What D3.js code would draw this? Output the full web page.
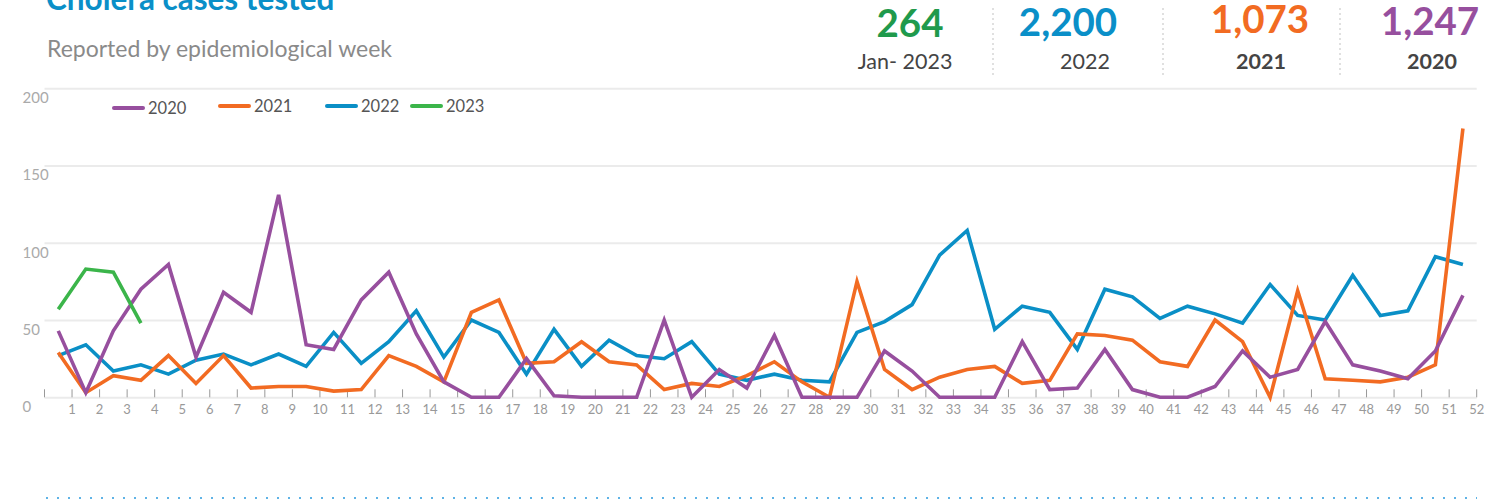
<!DOCTYPE html>
<html>
<head>
<meta charset="utf-8">
<script src="https://cdn.jsdelivr.net/npm/d3@7"></script>
<style>
  html, body { margin: 0; padding: 0; background: #fff; overflow: hidden; }
  text { font-family: Lato, "Noto Sans", sans-serif; }
</style>
</head>
<body>
<script>
// weekly cholera cases tested
var weeks = d3.range(1, 53);
var cases2020 = [43,3,43,70,86,26,68,55,131,34,31,63,81,41,10,0,0,25,1,0,0,0,50,0,18,6,40,0,0,0,30,17,0,0,0,36,5,6,31,5,0,0,7,30,13,18,49,21,17,12,30,66];
var cases2021 = [29,3,14,11,27,9,27,6,7,7,4,5,27,20,10,55,63,22,23,36,23,21,5,9,7,14,23,10,0,75,18,5,13,18,20,9,11,41,40,37,23,20,50,36,0,69,12,11,10,13,21,174];
var cases2022 = [27,34,17,21,15,24,28,21,28,20,42,22,36,56,26,50,42,15,44,20,37,27,25,36,15,11,15,11,10,42,49,60,92,108,44,59,55,31,70,65,51,59,54,48,73,53,50,79,53,56,91,86];
var cases2023 = [57,83,81,48];

var seriesNames = ["2020", "2021", "2022", "2023"];
var colors = {"2020": "#974f9e", "2021": "#f26b22", "2022": "#0a8fc6", "2023": "#3bb54a"};

var totals = ["264", "2,200", "1,073", "1,247"];
var totalLabels = ["Jan- 2023", "2022", "2021", "2020"];
var totalColors = ["#1f9a4c", "#0a8fc8", "#f26b22", "#974f9e"];

var yTicks = [0, 50, 100, 150, 200];

var width = 1499, height = 501;

var svg = d3.select("body").append("svg")
    .attr("width", width)
    .attr("height", height);

// title block (top of the title is cut off in the original too)
svg.append("text")
    .attr("x", 46).attr("y", 10)
    .style("font-size", "31.5px").style("font-weight", "bold")
    .attr("fill", "#0a8fc8")
    .text("Cholera cases tested");

svg.append("text")
    .attr("x", 47).attr("y", 57)
    .style("font-size", "23px")
    .attr("fill", "#8a8a8a")
    .text("Reported by epidemiological week");

// totals at top right
var statX = [910, 1068, 1260, 1430];
var statY = [37, 36, 33, 35];
var subX = [905, 1085, 1261, 1432];
totals.forEach(function (t, i) {
    svg.append("text")
        .attr("x", statX[i]).attr("y", statY[i])
        .attr("text-anchor", "middle")
        .style("font-size", "38.5px").style("font-weight", "bold")
        .attr("fill", totalColors[i])
        .text(t);
    svg.append("text")
        .attr("x", subX[i]).attr("y", 69)
        .attr("text-anchor", "middle")
        .style("font-size", "21.5px")
        .style("font-weight", i >= 2 ? "bold" : "normal")
        .attr("fill", "#444")
        .text(totalLabels[i]);
});
[993, 1163, 1340].forEach(function (sx) {
    svg.append("line")
        .attr("x1", sx).attr("x2", sx).attr("y1", 8).attr("y2", 78)
        .attr("stroke", "#d6d6d6").attr("stroke-width", 1.5)
        .attr("stroke-dasharray", "2,3");
});

// scales
var x = d3.scaleBand().domain(weeks).range([44.5, 1476.7]);
var bw = x.bandwidth();
var y = d3.scaleLinear().domain([0, 200]).range([397.3, 88.3]);

// gridlines + y labels
var yAxis = svg.append("g")
    .attr("transform", "translate(44.5,0)")
    .call(d3.axisRight(y).tickValues(yTicks).tickSize(1432.2));
yAxis.select(".domain").remove();
yAxis.selectAll("line").attr("stroke", "#ebebeb").attr("stroke-width", 2);
yAxis.selectAll("text")
    .attr("x", -22).attr("dy", "0.95em")
    .attr("text-anchor", "start")
    .attr("fill", "#aaa")
    .style("font-size", "15px").style("font-family", "Lato, sans-serif");

// x axis: labels and ticks on band boundaries
var xAxis = svg.append("g")
    .attr("transform", "translate(" + (bw / 2) + ",397.3)")
    .call(d3.axisBottom(x).tickSize(-8).tickPadding(5));
xAxis.select(".domain").remove();
xAxis.selectAll("line").attr("stroke", "#999").attr("stroke-width", 1);
xAxis.selectAll("text")
    .attr("y", 7)
    .attr("fill", "#999")
    .style("font-size", "13px").style("font-family", "Lato, sans-serif");
svg.append("line")
    .attr("x1", x.range()[0]).attr("x2", x.range()[0])
    .attr("y1", 389.3).attr("y2", 397.3)
    .attr("stroke", "#999");

// lines
var line = d3.line()
    .x(function (d) { return x(d.week) + bw / 2; })
    .y(function (d) { return y(d.value); });

function toPoints(arr) {
    return arr.map(function (v, i) { return {week: weeks[i], value: v}; });
}
var drawOrder = [["2022", cases2022], ["2021", cases2021], ["2020", cases2020], ["2023", cases2023]];
drawOrder.forEach(function (s) {
    svg.append("path")
        .datum(toPoints(s[1]))
        .attr("fill", "none")
        .attr("stroke", colors[s[0]])
        .attr("stroke-width", 3.6)
        .attr("stroke-linejoin", "miter")
        .attr("d", line);
});

// legend
var legX = [114, 220, 327, 412];
var legY = [108, 106, 106, 106];
seriesNames.forEach(function (n, i) {
    svg.append("line")
        .attr("x1", legX[i]).attr("x2", legX[i] + 29)
        .attr("y1", legY[i]).attr("y2", legY[i])
        .attr("stroke", colors[n]).attr("stroke-width", 4)
        .attr("stroke-linecap", "round");
    svg.append("text")
        .attr("x", legX[i] + 34).attr("y", legY[i] + 6)
        .style("font-size", "16.5px")
        .attr("fill", "#555")
        .text(n);
});

// dotted rule at the bottom
svg.append("line")
    .attr("x1", 46).attr("x2", 1477).attr("y1", 498).attr("y2", 498)
    .attr("stroke", "#5fb3e6").attr("stroke-width", 2)
    .attr("stroke-dasharray", "2,9");
</script>
</body>
</html>
